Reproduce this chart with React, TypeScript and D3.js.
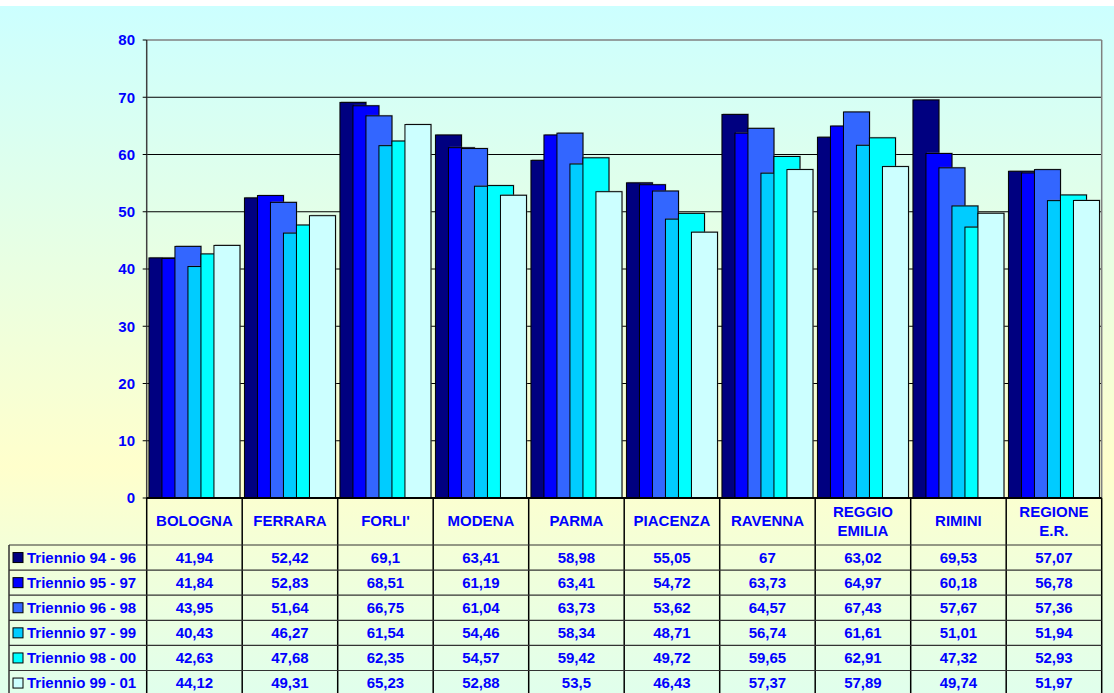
import React from "react";
import * as d3 from "d3";

const categories = ["BOLOGNA", "FERRARA", "FORLI'", "MODENA", "PARMA", "PIACENZA", "RAVENNA", "REGGIO EMILIA", "RIMINI", "REGIONE E.R."];
const categoryLines = [["BOLOGNA"], ["FERRARA"], ["FORLI'"], ["MODENA"], ["PARMA"], ["PIACENZA"], ["RAVENNA"], ["REGGIO", "EMILIA"], ["RIMINI"], ["REGIONE", "E.R."]];
const seriesNames = ["Triennio 94 - 96", "Triennio 95 - 97", "Triennio 96 - 98", "Triennio 97 - 99", "Triennio 98 - 00", "Triennio 99 - 01"];
const s9496 = [41.94, 52.42, 69.1, 63.41, 58.98, 55.05, 67, 63.02, 69.53, 57.07];
const s9597 = [41.84, 52.83, 68.51, 61.19, 63.41, 54.72, 63.73, 64.97, 60.18, 56.78];
const s9698 = [43.95, 51.64, 66.75, 61.04, 63.73, 53.62, 64.57, 67.43, 57.67, 57.36];
const s9799 = [40.43, 46.27, 61.54, 54.46, 58.34, 48.71, 56.74, 61.61, 51.01, 51.94];
const s9800 = [42.63, 47.68, 62.35, 54.57, 59.42, 49.72, 59.65, 62.91, 47.32, 52.93];
const s9901 = [44.12, 49.31, 65.23, 52.88, 53.5, 46.43, 57.37, 57.89, 49.74, 51.97];
const seriesValues = [s9496, s9597, s9698, s9799, s9800, s9901];
const seriesColors = ["#000080", "#0000FF", "#3366FF", "#00CCFF", "#00FFFF", "#CCFFFF"];
const yTicks = [0, 10, 20, 30, 40, 50, 60, 70, 80];

const W = 1114;
const H = 693;
const plotLeft = 146.7;
const plotRight = 1101.7;
const plotTop = 40;
const plotBottom = 498;
const headerBottom = 545;
const rowH = 25.1;
const tableLeft = 9;
const FONT = "'Liberation Sans', Arial, sans-serif";
const BLUE = "#0000FF";
const FS = 15;

export default function App() {
  const x = d3.scaleBand<string>().domain(categories).range([plotLeft, plotRight]).padding(0);
  const y = d3.scaleLinear().domain([0, 80]).range([plotBottom, plotTop]);
  const bw = x.bandwidth();
  const slot = (bw * 0.953) / 7;
  const pad = (bw - slot * 7) / 2;
  const fmt = (v: number) => String(v).replace(".", ",");

  return (
    <svg width={W} height={H} style={{ position: "absolute", left: 0, top: 0 }} fontFamily={FONT}>
      <defs>
        <linearGradient id="bg" gradientUnits="userSpaceOnUse" x1="0" y1="6" x2="0" y2={H}>
          <stop offset="0" stopColor="#CCFFFF" />
          <stop offset="0.67" stopColor="#FFFFCC" />
          <stop offset="1" stopColor="#E0FFEC" />
        </linearGradient>
      </defs>
      <rect x={0} y={0} width={W} height={H} fill="#FFFFFF" />
      <rect x={0} y={6} width={W} height={H - 6} fill="url(#bg)" />

      {/* gridlines */}
      {yTicks.map((t) => (
        <line key={"g" + t} x1={plotLeft} x2={plotRight} y1={y(t)} y2={y(t)} stroke={t === 80 ? "#808080" : "#000000"} strokeWidth={t === 80 ? 1.5 : 1} />
      ))}
      <line x1={plotRight} x2={plotRight} y1={plotTop} y2={plotBottom} stroke="#808080" strokeWidth={1.5} />

      {/* bars */}
      {seriesValues.map((vals, si) => (
        <g key={"s" + si}>
          {vals.map((v, ci) => {
            const bx = (x(categories[ci]) as number) + pad + si * slot;
            return (
              <g key={ci}>
                <rect x={bx + 1} y={y(v) - 1} width={slot * 2} height={plotBottom - y(v) + 1} fill="#808080" opacity={0.5} />
                <rect x={bx} y={y(v)} width={slot * 2} height={plotBottom - y(v)} fill={seriesColors[si]} stroke="#000000" strokeWidth={1} />
              </g>
            );
          })}
        </g>
      ))}

      {/* y axis */}
      <line x1={plotLeft} x2={plotLeft} y1={plotTop} y2={plotBottom} stroke="#404040" strokeWidth={1.5} />
      {yTicks.map((t) => (
        <g key={"t" + t}>
          <line x1={plotLeft - 4} x2={plotLeft} y1={y(t)} y2={y(t)} stroke="#000" />
          <text x={135} y={y(t)} dy="0.35em" textAnchor="end" fontSize={FS} fontWeight="bold" fill={BLUE}>{t}</text>
        </g>
      ))}

      {/* x axis line */}
      <line x1={plotLeft} x2={plotRight} y1={plotBottom} y2={plotBottom} stroke="#000" strokeWidth={2} />

      {/* table */}
      {categories.map((c, ci) => {
        const cx = (x(c) as number) + bw / 2;
        const lines = categoryLines[ci];
        return (
          <g key={"h" + ci}>
            {lines.map((ln, li) => (
              <text key={li} x={cx} y={(plotBottom + headerBottom) / 2 - 0.5 + (li - (lines.length - 1) / 2) * 19.5} dy="0.35em" textAnchor="middle" fontSize={FS} fontWeight="bold" fill={BLUE}>{ln}</text>
            ))}
          </g>
        );
      })}
      {d3.range(categories.length + 1).map((i) => (
        <line key={"v" + i} x1={plotLeft + i * bw} x2={plotLeft + i * bw} y1={plotBottom} y2={H} stroke="#000" strokeWidth={1.5} />
      ))}
      <line x1={tableLeft} x2={tableLeft} y1={headerBottom} y2={H} stroke="#333" strokeWidth={1.5} />
      {d3.range(seriesNames.length + 1).map((r) => (
        <line key={"r" + r} x1={tableLeft} x2={plotRight} y1={headerBottom + r * rowH} y2={headerBottom + r * rowH} stroke="#333" strokeWidth={1.2} />
      ))}
      {seriesNames.map((name, si) => {
        const cy = headerBottom + si * rowH + rowH / 2;
        return (
          <g key={"row" + si}>
            <rect x={13} y={cy - 5} width={10} height={10} fill={seriesColors[si]} stroke="#000" strokeWidth={1} />
            <text x={27} y={cy} dy="0.35em" fontSize={FS} fontWeight="bold" fill={BLUE}>{name}</text>
            {seriesValues[si].map((v, ci) => (
              <text key={ci} x={(x(categories[ci]) as number) + bw / 2} y={cy} dy="0.35em" textAnchor="middle" fontSize={FS} fontWeight="bold" fill={BLUE}>{fmt(v)}</text>
            ))}
          </g>
        );
      })}
    </svg>
  );
}
